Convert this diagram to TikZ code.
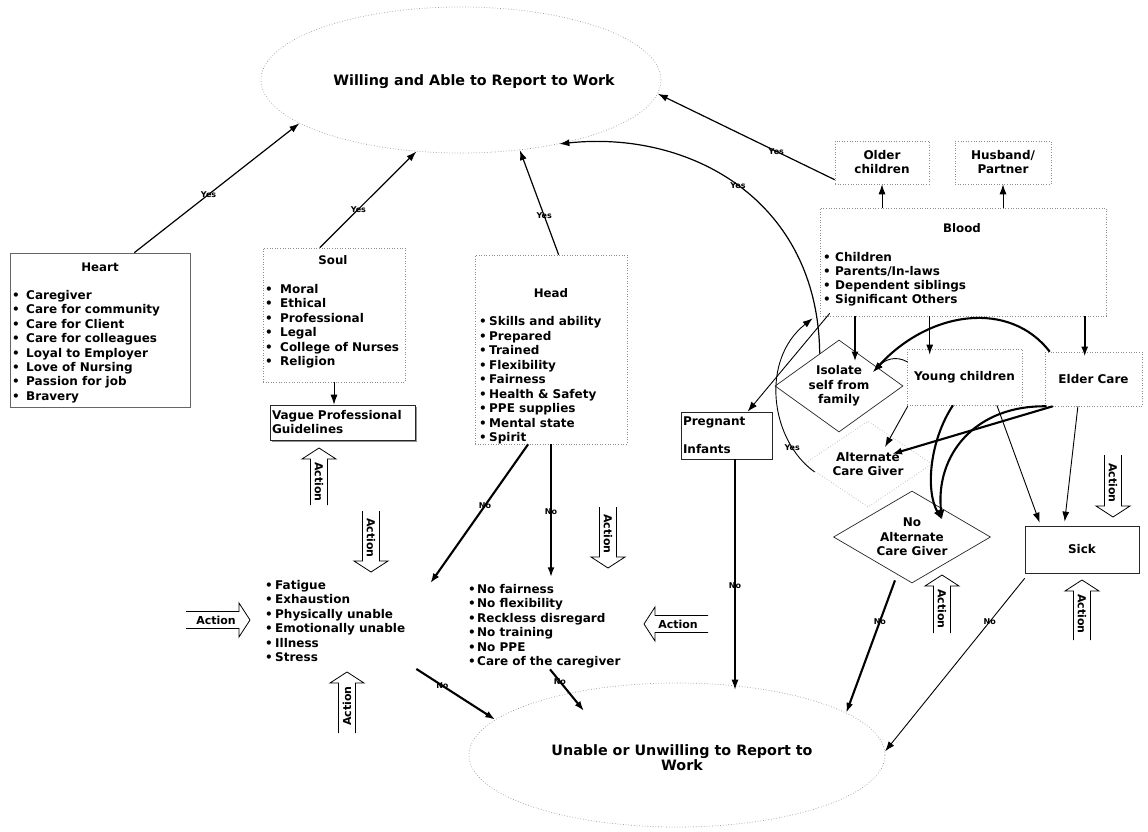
\documentclass[tikz,border=0pt]{standalone}
\usepackage{fontspec}
\setmainfont{DejaVu Sans}
\usepackage{tikz}
\usetikzlibrary{positioning, arrows.meta, shapes.geometric, calc, shadows}
\newcommand{\lbul}[1][14pt]{\makebox[#1][l]{\textbullet}}

\begin{document}
\begin{tikzpicture}[x=1pt, y=-1pt,
        dotbox/.style={rectangle, draw=black!45, dotted, line width=0.6pt, inner sep=0pt},
        solidbox/.style={rectangle, draw=black!85, line width=0.7pt, inner sep=0pt},
        goal/.style={ellipse, draw=black!40, dotted, line width=0.7pt, inner sep=0pt},
        goaltext/.style={font=\bfseries\fontsize{14.3}{15}\selectfont, align=center, inner sep=0pt},
        decision/.style={diamond, draw=black!85, line width=0.7pt, inner sep=0pt, align=center, font=\bfseries\fontsize{12}{14.5}\selectfont},
        ttl/.style={anchor=base, inner sep=0pt, font=\bfseries\fontsize{11.8}{14}\selectfont},
        itemlist/.style={anchor=north west, inner sep=0pt, align=left, font=\bfseries\fontsize{12}{14.4}\selectfont},
        boxtext/.style={font=\bfseries\fontsize{12}{14}\selectfont},
        lbl/.style={font=\bfseries\fontsize{8}{9}\selectfont, inner sep=0pt},
        conn/.style={-{Latex[length=10pt,width=7pt]}, line width=1.2pt},
        heavy/.style={conn, line width=2.1pt},
        light/.style={conn, line width=0.9pt},
        act/.style={draw, line width=0.8pt},
        acttext/.style={font=\bfseries\fontsize{11}{12}\selectfont, inner sep=0pt},
    ]
    \useasboundingbox (0,0) rectangle (1148,832);
    \fill[white] (0,0) rectangle (1148,832);

    % Goals
    \node[goal, minimum width=400pt, minimum height=146pt] (willing) at (461,80) {};
    \node[goaltext] (willingtext) at (474,82) {Willing and Able to Report to Work};
    \node[goal, minimum width=416pt, minimum height=144pt] (unable) at (677,755) {};
    \node[goaltext] (unabletext) at (682,758) {Unable or Unwilling to Report to\\Work};

    % Heart
    \node[solidbox, draw=black!60, minimum width=180pt, minimum height=154pt] (heart) at (100,330) {};
    \node[ttl] (hearttitle) at (100,271.5) {Heart};
    \node[itemlist] (heartlist) at (12,290.25) {\lbul Caregiver\\\lbul Care for community\\\lbul Care for Client\\\lbul Care for colleagues\\\lbul Loyal to Employer\\\lbul Love of Nursing\\\lbul Passion for job\\\lbul Bravery};

    % Soul
    \node[dotbox, minimum width=142pt, minimum height=134pt] (soul) at (334,315) {};
    \node[ttl] (soultitle) at (333,264.5) {Soul};
    \node[itemlist] (soullist) at (265,284.25) {\lbul[15pt]Moral\\\lbul[15pt]Ethical\\\lbul[15pt]Professional\\\lbul[15pt]Legal\\\lbul[15pt]College of Nurses\\\lbul[15pt]Religion};
    \node[solidbox, fill=white, minimum width=145pt, minimum height=35pt, text width=141pt, align=left, boxtext,
        drop shadow={shadow xshift=2pt, shadow yshift=-2pt, fill=black!85}] (vague) at (342.5,422.5) {Vague Professional\\Guidelines};

    % Head
    \node[dotbox, minimum width=152pt, minimum height=189pt] (head) at (551,349.5) {};
    \node[ttl] (headtitle) at (551,297.5) {Head};
    \node[itemlist, font=\bfseries\fontsize{12}{14.5}\selectfont] (headlist) at (479,316.25) {\lbul[10pt]Skills and ability\\\lbul[10pt]Prepared\\\lbul[10pt]Trained\\\lbul[10pt]Flexibility\\\lbul[10pt]Fairness\\\lbul[10pt]Health \& Safety\\\lbul[10pt]PPE supplies\\\lbul[10pt]Mental state\\\lbul[10pt]Spirit};

    % Blood and family
    \node[dotbox, minimum width=94pt, minimum height=43pt, align=center, boxtext] (older) at (882,162.5) {Older\\children};
    \node[dotbox, minimum width=96pt, minimum height=43pt, align=center, boxtext] (husband) at (1003,162.5) {Husband/\\Partner};
    \node[dotbox, minimum width=286pt, minimum height=108pt] (blood) at (963,262) {};
    \node[ttl] (bloodtitle) at (962,232.5) {Blood};
    \node[itemlist, font=\bfseries\fontsize{12}{14}\selectfont] (bloodlist) at (823,252.25) {\lbul[12pt]Children\\\lbul[12pt]Parents/In-laws\\\lbul[12pt]Dependent siblings\\\lbul[12pt]Significant Others};
    \node[dotbox, minimum width=115pt, minimum height=56pt, boxtext] (young) at (964.5,377) {Young children};
    \node[dotbox, minimum width=97pt, minimum height=54pt, boxtext] (elder) at (1093.5,379) {Elder Care};
    \node[solidbox, minimum width=91pt, minimum height=47pt, text width=87pt, align=left, boxtext] (preg) at (726.5,435.5) {Pregnant\\[13.6pt]Infants};
    \node[decision, aspect=1.39, minimum width=128pt, minimum height=92pt] (isolate) at (839,386) {Isolate\\self from\\family};
    \node[decision, draw=black!30, dotted, aspect=1.5, minimum width=128pt, minimum height=86pt] (acg) at (868,464) {Alternate\\Care Giver};
    \node[decision, aspect=1.7, minimum width=157pt, minimum height=92pt] (noacg) at (912,537) {No\\Alternate\\Care Giver};
    \node[solidbox, minimum width=114pt, minimum height=47pt, boxtext] (sick) at (1082,549.5) {Sick};

    % Outcome lists
    \node[itemlist] (fatigue) at (265,580.25) {\lbul[10pt]Fatigue\\\lbul[10pt]Exhaustion\\\lbul[10pt]Physically unable\\\lbul[10pt]Emotionally unable\\\lbul[10pt]Illness\\\lbul[10pt]Stress};
    \node[itemlist] (nofair) at (468,584.25) {\lbul[9pt]No fairness\\\lbul[9pt]No flexibility\\\lbul[9pt]Reckless disregard\\\lbul[9pt]No training\\\lbul[9pt]No PPE\\\lbul[9pt]Care of the caregiver};

    % Yes arrows
    \draw[conn] ($(heart.north west)!0.69!(heart.north east)$) -- node[lbl, pos=0.45] (yes1) {Yes} (willing.-165.4);
    \draw[conn] ($(soul.north west)!0.4!(soul.north east)$) -- node[lbl, pos=0.4] (yes2) {Yes} (willing.-122.6);
    \draw[conn] ($(head.north west)!0.55!(head.north east)$) -- node[lbl, pos=0.37] (yes3) {Yes} (willing.-50.4);
    \draw[conn] (older.-160) -- node[lbl, pos=0.33] (yes4) {Yes} (willing.-4.6);
    \draw[conn] ($(isolate.west)!0.7!(isolate.north)$) .. controls (818,200) and (690,130) .. node[lbl, pos=0.5] (yes5) {Yes} (willing.-33.8);
    \draw[light] ($(acg.west)+(11,8)$) .. controls (770,440) and (760,360) .. node[lbl, pos=0.2] (yes6) {Yes} ($(blood.south west)+(-7,2)$);

    % Blood branches
    \coordinate (isotop) at ($(isolate.north)+(16,22)$);
    \coordinate (isoin) at ($(isolate.center)+(34,-14)$);
    \coordinate (youngin) at ($(young.north west)+(23,6)$);
    \coordinate (elderin) at ($(elder.north west)+(40,5)$);
    \coordinate (acgin1) at ($(acg.center)+(17,-17)$);
    \coordinate (acgin2) at ($(acg.center)+(24,-10)$);
    \coordinate (noin) at ($(noacg.center)+(30,-17)$);
    \draw[light] (blood.north -| older.south) -- (older.south);
    \draw[light] (blood.north -| husband.south) -- (husband.south);
    \draw[heavy] (blood.south -| isotop) -- (isotop);
    \draw[conn] (blood.south -| youngin) -- (youngin);
    \draw[heavy] (blood.south -| elderin) -- (elderin);
    \draw[light] ($(blood.south west)+(10,-3)$) -- ($(preg.north west)+(67,0)$);
    \draw[heavy] ($(elder.north west)+(5,0)$) .. controls (1010,300) and (930,310) .. (isoin);
    \draw[light] ($(young.west)+(1,-15)$) .. controls (895,355) and (885,360) .. (isoin);
    \draw[light] ($(young.south west)+(1,1)$) -- (acgin1);
    \draw[heavy] ($(elder.south west)+(8,0)$) -- (acgin2);
    \draw[heavy] ($(young.south west)!0.4!(young.south east)$) .. controls (930,440) and (925,490) .. (noin);
    \draw[heavy] ($(elder.south west)+(2,0)$) .. controls (975,405) and (935,455) .. (noin);
    \draw[light] ($(young.south west)!0.78!(young.south east)$) -- ($(sick.north west)+(15,-3)$);
    \draw[light] ($(elder.south west)!0.34!(elder.south east)$) -- ($(sick.north west)+(40,-4)$);
    \draw[light] (soul.south) -- (soul.south |- vague.north);

    % No arrows
    \coordinate (caretip) at ($(unable.center)+(-93,-44)$);
    \draw[heavy] ($(head.south west)!0.35!(head.south east)$) -- node[lbl, pos=0.44] (no1) {No} ($(fatigue.north east)+(25,3)$);
    \draw[heavy] (head.south) -- node[lbl, pos=0.51] (no2) {No} ($(nofair.north west)+(83,-7)$);
    \draw[conn] ($(preg.south)+(8.5,0)$) -- node[lbl, pos=0.55] (no3) {No} ($(unable.north)+(58,7)$);
    \draw[heavy] ($(fatigue.south east)+(11,7)$) -- node[lbl, pos=0.33] (no4) {No} (unable.169.7);
    \draw[heavy] ($(nofair.south west)+(82,1)$) -- node[lbl, pos=0.29] (no5) {No} (caretip);
    \draw[heavy] ($(noacg.south)+(-17,-3)$) -- node[lbl, pos=0.31] (no6) {No} (unable.14.8);
    \draw[light] ($(sick.south west)+(0,5)$) -- node[lbl, pos=0.25] (no7) {No} (unable.1.4);

    % Action arrows
    \foreach \x/\y/\a/\r/\l [count=\k] in {319/448/90/-90/57, 371/572/-90/-90/61, 250/620/0/0/64, 347/672/90/90/61, 608/568/-90/-90/61, 644/624/180/0/64, 942/575/90/-90/58, 1082/580/90/-90/60, 1113/517/-90/-90/62} {
        \begin{scope}[shift={(\x,\y)}, rotate=\a]
            \draw[act] (-\l,-8.5) -- (-11,-8.5) -- (-11,-17) -- (0,0) -- (-11,17) -- (-11,8.5) -- (-\l,8.5);
            \node[acttext, rotate=\r] (action\k) at (-34,0) {Action};
        \end{scope}
    }

\end{tikzpicture}
\end{document}
